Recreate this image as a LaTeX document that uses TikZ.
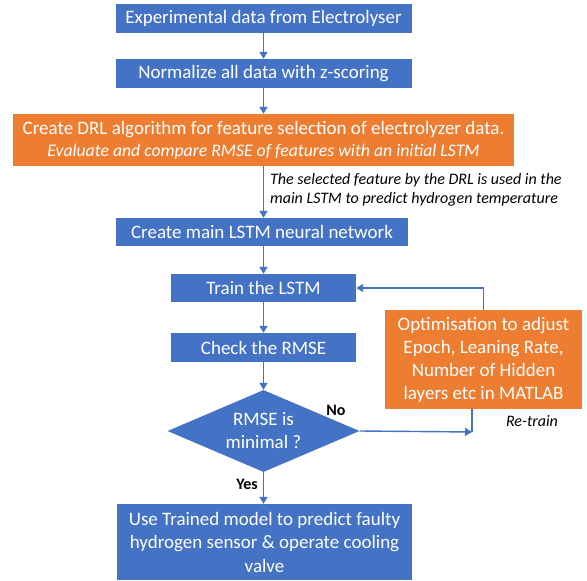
\documentclass[tikz,border=0pt]{standalone}
\usepackage{fontspec}
\setmainfont{Carlito}
\usetikzlibrary{shapes.geometric,arrows.meta}
\definecolor{bblue}{HTML}{4472C4}
\definecolor{borange}{HTML}{ED7D31}
\tikzset{
  box/.style={draw=none, fill=bblue, text=white, inner sep=0pt, align=center, font=\fontsize{19}{23}\selectfont},
  obox/.style={box, fill=borange},
  dia/.style={diamond, fill=bblue, inner sep=0pt},
  arr/.style={draw=bblue, line width=1.4pt, -{Triangle[width=8pt,length=7pt]}},
  ln/.style={draw=bblue, line width=1.4pt},
  note/.style={text=black, font=\fontsize{16}{18.5}\selectfont\itshape, inner sep=0pt, align=left},
  lab/.style={text=black, font=\fontsize{16}{18}\selectfont\bfseries, inner sep=0pt}
}
\begin{document}
\begin{tikzpicture}[x=1pt,y=-1pt]
\useasboundingbox (0,0) rectangle (587,581);
\node[box, minimum width=296pt, minimum height=29pt] (b1) at (263.5,18.5) {Experimental data from Electrolyser};
\node[box, minimum width=296pt, minimum height=29pt] (b2) at (263.5,73.5) {Normalize all data with z-scoring};
\node[obox, minimum width=501pt, minimum height=52pt, font=\fontsize{19}{22}\selectfont] (b3) at (263.5,140) {Create DRL algorithm for feature selection of electrolyzer data.\\{\itshape\fontsize{17.7}{22}\selectfont Evaluate and compare RMSE of features with an initial LSTM}};
\node[box, minimum width=292pt, minimum height=28pt] (b4) at (262,232) {Create main LSTM neural network};
\node[box, minimum width=185pt, minimum height=28pt] (b5) at (263.5,288) {Train the LSTM};
\node[box, minimum width=185pt, minimum height=29pt] (b6) at (263.5,347.5) {Check the RMSE};
\node[dia, minimum width=192pt, minimum height=82pt] (b7) at (263.5,431) {};
\node[text=white, align=center, inner sep=0pt, font=\fontsize{19}{23}\selectfont] (b7t) at (263.5,431) {RMSE is\\minimal ?};
\node[box, minimum width=295pt, minimum height=76pt, font=\fontsize{19}{23.5}\selectfont] (b8) at (264.5,542) {Use Trained model to predict faulty\\hydrogen sensor \& operate cooling\\valve};
\node[obox, minimum width=197pt, minimum height=99pt, font=\fontsize{19}{23}\selectfont] (opt) at (483.5,359.5) {Optimisation to adjust\\Epoch, Leaning Rate,\\Number of Hidden\\layers etc in MATLAB};
\node[note, anchor=west] (n1) at (270,190) {The selected feature by the DRL is used in the\\main LSTM to predict hydrogen temperature};
\node[note] (rt) at (532,421) {Re-train};
\node[lab] (no) at (336,410) {No};
\node[lab] (yes) at (247,484) {Yes};
\coordinate (c) at (472,432);
\draw[arr] (b1) -- (b2);
\draw[arr] (b2) -- (b3);
\draw[arr] (b3) -- (b3 |- b4.north);
\draw[arr] (b4.south -| b5) -- (b5);
\draw[arr] (b5) -- (b6);
\draw[arr] (b6) -- (b7);
\draw[arr] (b7) -- (b7 |- b8.north);
\draw[arr] (opt.north) |- (b5.east);
\draw[arr] (b7.east) -- (c);
\draw[ln] (c) -- (c |- opt.south);
\end{tikzpicture}
\end{document}
